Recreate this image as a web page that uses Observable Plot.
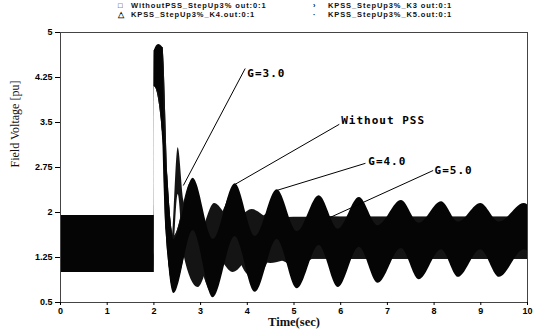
<!DOCTYPE html>
<html><head><meta charset="utf-8">
<script src="https://cdn.jsdelivr.net/npm/d3@7"></script>
<script src="https://cdn.jsdelivr.net/npm/@observablehq/plot@0.6"></script>
<style>
body{margin:0;background:#fff;}
#wrap{position:relative;width:540px;height:329px;overflow:hidden;background:#fff;}
#legend{position:relative;width:540px;height:24px;font-family:"Liberation Sans",Arial,sans-serif;font-size:7.5px;font-weight:bold;color:#111;}
.li{position:absolute;white-space:nowrap;line-height:8px;letter-spacing:0.9px;}
#chart svg{display:block;}
</style></head><body>
<div id="wrap"><div id="legend"></div><div id="chart"></div></div>
<script>
// ---- legend ----
const legendLabels = ["WithoutPSS_StepUp3% out:0:1", "KPSS_StepUp3%_K3 out:0:1", "KPSS_StepUp3%_K4.out:0:1", "KPSS_StepUp3%_K5.out:0:1"];
const legendSymbols = ["\u25A1", "\u203A", "\u25B3", "\u00B7"];

// ---- axes ----
const xTicks = [0, 1, 2, 3, 4, 5, 6, 7, 8, 9, 10];
const yTicks = [0.5, 1.25, 2, 2.75, 3.5, 4.25, 5];

// ---- series envelopes (time, upper, lower) ----
const timeWithout = [0, 2.0, 2.01, 2.1, 2.19, 2.22, 2.3, 2.43, 2.84, 3.27, 3.74, 4.17, 4.64, 5.07, 5.54, 5.95, 6.40, 6.80, 7.30, 7.68, 8.16, 8.52, 9.00, 9.40, 9.93, 10.0];
const hiWithout   = [1.95, 1.95, 4.7, 4.8, 4.75, 3.6, 2.5, 1.55, 2.57, 1.55, 2.48, 1.6, 2.38, 1.68, 2.28, 1.72, 2.25, 1.78, 2.2, 1.82, 2.18, 1.84, 2.15, 1.84, 2.15, 2.13];
const loWithout   = [1.0, 1.0, 4.1, 4.0, 3.2, 2.4, 1.3, 0.65, 1.7, 0.58, 1.6, 0.67, 1.55, 0.73, 1.45, 0.75, 1.42, 0.82, 1.4, 0.88, 1.38, 0.92, 1.38, 0.92, 1.38, 1.36];

const timeK3 = [0, 2.0, 2.01, 2.19, 2.26, 2.38, 2.52, 2.64, 2.95, 3.3, 3.7, 4.1, 4.5, 5.0, 10.0];
const hiK3   = [1.95, 1.95, 4.7, 4.75, 2.8, 1.45, 3.08, 2.2, 1.6, 2.15, 1.85, 2.05, 1.9, 1.92, 1.92];
const loK3   = [1.0, 1.0, 4.1, 3.5, 1.7, 0.95, 2.3, 1.3, 0.75, 1.3, 1.0, 1.25, 1.15, 1.22, 1.22];

const timeK4 = [0, 2.0, 2.01, 2.19, 2.3, 2.43, 2.8, 3.2, 3.65, 4.05, 4.5, 4.9, 5.4, 10.0];
const hiK4   = [1.95, 1.95, 4.7, 4.75, 2.6, 1.6, 2.5, 1.6, 2.2, 1.75, 2.0, 1.85, 1.92, 1.92];
const loK4   = [1.0, 1.0, 4.1, 3.3, 1.4, 0.7, 1.6, 0.75, 1.4, 0.95, 1.3, 1.15, 1.22, 1.22];

const timeK5 = [0, 2.0, 2.01, 2.19, 2.3, 2.43, 2.8, 3.25, 3.7, 4.15, 4.6, 5.05, 5.5, 6.0, 10.0];
const hiK5   = [1.95, 1.95, 4.7, 4.75, 2.6, 1.6, 2.45, 1.55, 2.35, 1.7, 2.1, 1.8, 1.95, 1.92, 1.92];
const loK5   = [1.0, 1.0, 4.1, 3.3, 1.4, 0.7, 1.55, 0.65, 1.5, 0.8, 1.3, 1.05, 1.25, 1.22, 1.22];

// ---- annotations ----
const annLabels = ["G=3.0", "Without PSS", "G=4.0", "G=5.0"];
const annTextX  = [4.0, 6.01, 6.59, 8.01];
const annTextY  = [4.32, 3.53, 2.85, 2.70];
const annLineX1 = [3.955, 5.97, 6.53, 7.98];
const annLineY1 = [4.40, 3.47, 2.82, 2.70];
const annLineX2 = [2.63, 3.74, 4.64, 5.78];
const annLineY2 = [2.45, 2.47, 2.37, 1.92];

// build tables
function table(t, hi, lo) { return t.map((d, i) => ({t: d, hi: hi[i], lo: lo[i]})); }
const series = [
  {name: "K5", data: table(timeK5, hiK5, loK5), fill: "#141414"},
  {name: "K4", data: table(timeK4, hiK4, loK4), fill: "#141414"},
  {name: "K3", data: table(timeK3, hiK3, loK3), fill: "#141414"},
  {name: "Without", data: table(timeWithout, hiWithout, loWithout), fill: "#050505"}
];
const ann = annLabels.map((l, i) => ({label: l, tx: annTextX[i], ty: annTextY[i], x1: annLineX1[i], y1: annLineY1[i], x2: annLineX2[i], y2: annLineY2[i]}));

// legend
const lg = document.getElementById("legend");
const legPos = [[118, 131, 5.5], [313, 328, 5.5], [118, 131, 14.5], [313, 328, 14.5]];
legendLabels.forEach((lab, i) => {
  const [sx, tx, cy] = legPos[i];
  const s = document.createElement("div");
  s.className = "li"; s.style.left = sx + "px"; s.style.top = (cy - 4) + "px";
  s.textContent = legendSymbols[i];
  lg.appendChild(s);
  const t = document.createElement("div");
  t.className = "li"; t.style.left = tx + "px"; t.style.top = (cy - 4) + "px";
  t.textContent = lab;
  lg.appendChild(t);
});

const marks = [];
for (const s of series) {
  marks.push(Plot.areaY(s.data, {x: "t", y1: "lo", y2: "hi", fill: s.fill, curve: "monotone-x"}));
}
marks.push(
  Plot.frame({stroke: "#444", strokeWidth: 1}),
  Plot.axisX({ticks: xTicks, tickFormat: d => String(d), tickSize: 3, tickPadding: 2, fontWeight: "bold", fontSize: 9, fontFamily: "Liberation Sans", label: null}),
  Plot.axisY({ticks: yTicks, tickFormat: d => String(d), tickSize: 5, tickPadding: 3, fontWeight: "bold", fontSize: 9, fontFamily: "Liberation Sans", label: null}),
  Plot.link(ann, {x1: "x1", y1: "y1", x2: "x2", y2: "y2", stroke: "#000", strokeWidth: 1}),
  Plot.text(ann, {x: "tx", y: "ty", text: "label", textAnchor: "start", fontFamily: "DejaVu Sans Mono", fontWeight: "bold", fontSize: 11, fill: "#000"}),
  Plot.text(["Field Voltage [pu]"], {frameAnchor: "left", dx: -45, rotate: -90, fontFamily: "Liberation Serif", fontSize: 12, fill: "#111"}),
  Plot.text(["Time(sec)"], {frameAnchor: "bottom", dy: 15, lineAnchor: "top", fontFamily: "Liberation Serif", fontWeight: "bold", fontSize: 12.5, fill: "#111"})
);

const chart = Plot.plot({
  width: 540, height: 305,
  marginLeft: 60, marginRight: 13, marginTop: 8, marginBottom: 27,
  x: {domain: [0, 10]},
  y: {domain: [0.5, 5]},
  marks
});
document.getElementById("chart").appendChild(chart);
d3.select(chart).selectAll("g[font-family='DejaVu Sans Mono'] text").style("letter-spacing", "1px");
</script></body></html>
